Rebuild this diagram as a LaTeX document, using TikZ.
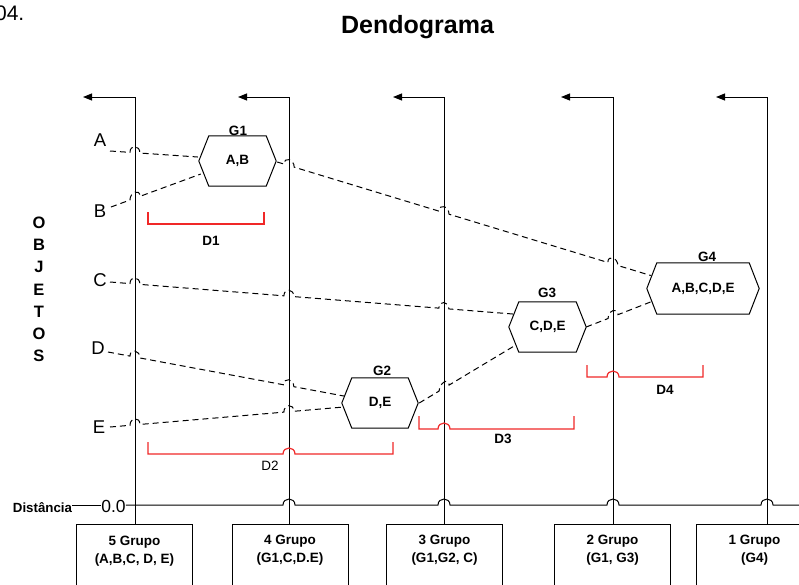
\documentclass[tikz,border=0pt]{standalone}
\usepackage{fontspec}
\setmainfont{Liberation Sans}
\usetikzlibrary{calc,arrows.meta}
\definecolor{brred}{RGB}{240,40,40}
\newcommand\hexout[1]{\draw[line width=1pt] (#1.west) -- ([xshift=10pt]#1.north west) -- ([xshift=-10pt]#1.north east) -- (#1.east) -- ([xshift=-10pt]#1.south east) -- ([xshift=10pt]#1.south west) -- cycle;}
\begin{document}
\begin{tikzpicture}[x=1pt,y=-1pt,
  vline/.style={line width=1pt,black},
  dl/.style={line width=1pt,dash pattern=on 6pt off 4pt},
  brk/.style={line width=1.2pt,brred},
  hexn/.style={minimum width=#1,minimum height=50pt,inner sep=0pt,font=\bfseries\fontsize{13.5}{16}\selectfont},
  obj/.style={inner sep=0pt,font=\fontsize{18.5}{20}\selectfont},
  lbl/.style={inner sep=0pt,font=\bfseries\fontsize{13.5}{16}\selectfont},
  gbox/.style={draw,line width=1pt,minimum width=116pt,minimum height=90pt,anchor=north,inner sep=0pt},
  gtext/.style={inner sep=0pt,align=center,font=\bfseries\fontsize{13.5}{18}\selectfont},
  arr/.style={-{Triangle[length=9pt,width=7pt]}}]
\useasboundingbox (0,0) rectangle (799,584);
\clip (0,0) rectangle (799,584);

% texts
\node[inner sep=0pt,anchor=base east,font=\fontsize{21}{24}\selectfont] (num) at (24.5,20) {04.};
\node[inner sep=0pt,anchor=base,font=\bfseries\fontsize{25}{28}\selectfont] (title) at (417.5,33) {Dendograma};
\node[inner sep=0pt,align=center,font=\bfseries\fontsize{16.5}{22.2}\selectfont] (objetos) at (39,289.5) {O\\B\\J\\E\\T\\O\\S};
\node[obj] (A) at (100,140.5) {A};
\node[obj] (B) at (100,211) {B};
\node[obj] (C) at (100,280) {C};
\node[obj] (D) at (98,348.5) {D};
\node[obj] (E) at (99,427.5) {E};
\node[lbl,font=\bfseries\fontsize{13.3}{16}\selectfont] (dist) at (42.5,507.5) {Distância};
\node[obj,font=\fontsize{17.5}{20}\selectfont] (zero) at (113.5,506) {0.0};

% boxes
\node[gbox] (b1) at (134.5,524) {};
\node[gbox] (b2) at (290,524) {};
\node[gbox] (b3) at (444.5,524) {};
\node[gbox] (b4) at (612.5,524) {};
\node[gbox] (b5) at (754.5,524) {};
\node[gtext] (t1txt) at (134.5,551) {5 Grupo\\(A,B,C, D, E)};
\node[gtext] (t2txt) at (290,550) {4 Grupo\\(G1,C,D.E)};
\node[gtext] (t3txt) at (444.5,550.5) {3 Grupo\\(G1,G2, C)};
\node[gtext] (t4txt) at (612.5,550.5) {2 Grupo\\(G1, G3)};
\node[gtext] (t5txt) at (754.5,550.5) {1 Grupo\\(G4)};

% vertical lines with arrows
\coordinate (t1) at (135,97); \coordinate (a1) at (83,97);
\coordinate (t2) at (289,97); \coordinate (a2) at (238,97);
\coordinate (t3) at (444,97); \coordinate (a3) at (393,97);
\coordinate (t4) at (613,97); \coordinate (a4) at (561,97);
\coordinate (t5) at (767,97); \coordinate (a5) at (716,97);
\draw[vline,arr] (t1 |- b1.north) -- (t1) -- (a1);
\draw[vline,arr] (t2 |- b2.north) -- (t2) -- (a2);
\draw[vline,arr] (t3 |- b3.north) -- (t3) -- (a3);
\draw[vline,arr] (t4 |- b4.north) -- (t4) -- (a4);
\draw[vline,arr] (t5 |- b5.north) -- (t5) -- (a5);

% distance line
\coordinate (dy) at (0,505);
\coordinate (dend) at (805,505);
\draw[vline] (dist.east |- dy) -- (zero.west |- dy);
\draw[vline] (zero.east |- dy) -- (283,505) .. controls (283,497) and (295,497) .. (295,505)
  -- (438,505) .. controls (438,497) and (450,497) .. (450,505)
  -- (607,505) .. controls (607,497) and (619,497) .. (619,505)
  -- (761,505) .. controls (761,497) and (773,497) .. (773,505) -- (dend);

% hexagons
\node[hexn=77pt] (G1) at (237.5,161) {A,B};
\node[hexn=76pt] (G2) at (380,403) {D,E};
\node[hexn=77pt] (G3) at (547.5,327) {C,D,E};
\node[hexn=112pt,minimum height=51pt] (G4) at (703,288.5) {A,B,C,D,E};
\hexout{G1}\hexout{G2}\hexout{G3}\hexout{G4}
\node[lbl] (g1l) at (238,131) {G1};
\node[lbl] (g2l) at (382,371) {G2};
\node[lbl] (g3l) at (547,292.5) {G3};
\node[lbl] (g4l) at (707,257) {G4};

% red brackets
\draw[brk] (148,212) -- (148,224) -- (264,224) -- (264,212);
\draw[brk] (148,442) -- (148,454) -- (283,454) .. controls (283,446) and (295,446) .. (295,454) -- (393,454) -- (393,442);
\draw[brk] (419,416) -- (419,429) -- (438,429) .. controls (438,421) and (450,421) .. (450,429) -- (574,429) -- (574,416);
\draw[brk] (587,365) -- (587,377) -- (607,377) .. controls (607,369) and (619,369) .. (619,377) -- (703,377) -- (703,365);
\node[lbl] (d1) at (211,241) {D1};
\node[inner sep=0pt,font=\fontsize{13.5}{16}\selectfont] (d2) at (270,466) {D2};
\node[lbl] (d3) at (503,439) {D3};
\node[lbl] (d4) at (665,390) {D4};

% dashed connectors
\coordinate (pA) at (110,151);
\coordinate (pB) at (111,207);
\coordinate (pC) at (110,282);
\coordinate (pD) at (108,352);
\coordinate (pE) at (110,427);
\coordinate (qA) at ($(G1.west)+(-1,-4)$);
\coordinate (qB) at ($(G1.west)+(2,13)$);
\coordinate (p1) at ($(G1.east)+(1,1)$);
\coordinate (q1) at ($(G4.west)+(4,-13)$);
\coordinate (qC) at ($(G3.west)+(4,-13)$);
\coordinate (qD) at ($(G2.west)+(2,-7)$);
\coordinate (qE) at ($(G2.west)+(2,4)$);
\coordinate (p2) at ($(G2.east)+(1,0)$);
\coordinate (q2) at ($(G3.west)+(7,18)$);
\coordinate (p3) at (G3.east);
\coordinate (q3) at ($(G4.west)+(5,13)$);

\draw[dl] (pA) -- ($(pA)!0.2273!(qA)$) .. controls +(0,-8) and +(0,-8) .. ($(pA)!0.3409!(qA)$) -- (qA);
\draw[dl] (pB) -- ($(pB)!0.2111!(qB)$) .. controls +(0,-8) and +(0,-8) .. ($(pB)!0.3222!(qB)$) -- (qB);
\draw[dl] (p1) -- ($(p1)!0.0187!(q1)$) .. controls +(0,-8) and +(0,-8) .. ($(p1)!0.0455!(q1)$)
  -- ($(p1)!0.4332!(q1)$) .. controls +(0,-8) and +(0,-8) .. ($(p1)!0.4599!(q1)$)
  -- ($(p1)!0.8850!(q1)$) .. controls +(0,-8) and +(0,-8) .. ($(p1)!0.9118!(q1)$) -- (q1);
\draw[dl] (pC) -- ($(pC)!0.0496!(qC)$) .. controls +(0,-8) and +(0,-8) .. ($(pC)!0.0744!(qC)$)
  -- ($(pC)!0.4318!(qC)$) .. controls +(0,-8) and +(0,-8) .. ($(pC)!0.4566!(qC)$)
  -- ($(pC)!0.8164!(qC)$) .. controls +(0,-8) and +(0,-8) .. ($(pC)!0.8412!(qC)$) -- (qC);
\draw[dl] (pD) -- ($(pD)!0.0932!(qD)$) .. controls +(0,-8) and +(0,-8) .. ($(pD)!0.1356!(qD)$)
  -- ($(pD)!0.7458!(qD)$) .. controls +(0,-8) and +(0,-8) .. ($(pD)!0.7881!(qD)$) -- (qD);
\draw[dl] (pE) -- ($(pE)!0.0855!(qE)$) .. controls +(0,-8) and +(0,-8) .. ($(pE)!0.1282!(qE)$)
  -- ($(pE)!0.7436!(qE)$) .. controls +(0,-8) and +(0,-8) .. ($(pE)!0.7863!(qE)$) -- (qE);
\draw[dl] (p2) -- ($(p2)!0.2062!(q2)$) .. controls +(0,-8) and +(0,-8) .. ($(p2)!0.3093!(q2)$) -- (q2);
\draw[dl] (p3) -- ($(p3)!0.3333!(q3)$) .. controls +(0,-8) and +(0,-8) .. ($(p3)!0.4848!(q3)$) -- (q3);
\end{tikzpicture}
\end{document}
